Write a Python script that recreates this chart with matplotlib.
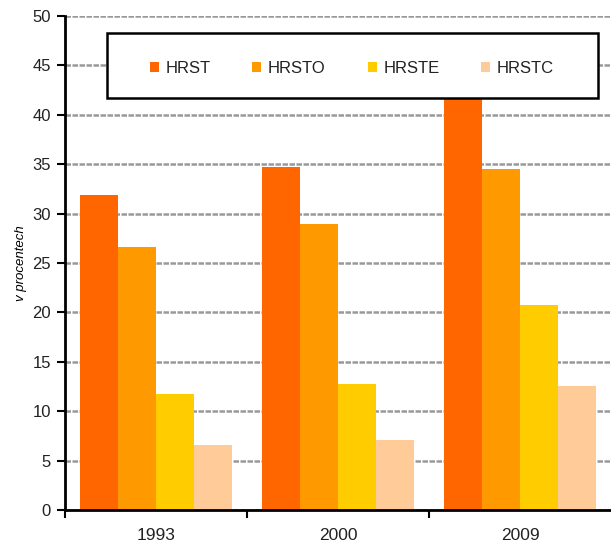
import matplotlib
matplotlib.use("Agg")
import matplotlib.pyplot as plt
from matplotlib.patches import Rectangle
import numpy as np

plt.rcParams['font.family'] = ['Liberation Sans', 'DejaVu Sans']

years = ['1993', '2000', '2009']
series = ['HRST', 'HRSTO', 'HRSTE', 'HRSTC']
hrst = [31.9, 34.7, 44.5]
hrsto = [26.6, 28.9, 34.5]
hrste = [11.7, 12.8, 20.8]
hrstc = [6.6, 7.1, 12.6]
colors = ['#ff6600', '#ff9900', '#ffcc00', '#ffcc99']

fig = plt.figure(figsize=(6.11, 5.46), dpi=100)
ax = fig.add_axes([0.1064, 0.0659, 0.8936, 0.9048])

x = np.arange(len(years))
w = 0.2075
for i, (vals, name) in enumerate(zip([hrst, hrsto, hrste, hrstc], series)):
    ax.bar(x + (i - 1.5) * w, vals, width=w, color=colors[i], label=name, zorder=2)

ax.set_ylim(0, 50)
ax.set_yticks(np.arange(0, 51, 5))
ax.set_xlim(-0.5, 2.5)
ax.set_xticks(x)
ax.set_xticklabels(years, color='#222222')
ax.set_xticks([-0.5, 0.5, 1.5], minor=True)
ax.tick_params(axis='x', which='major', length=0, pad=13, labelsize=12.5)
ax.tick_params(axis='x', which='minor', length=6, width=1.5, direction='out')
ax.tick_params(axis='y', length=6, width=1.5, direction='out', labelsize=12, pad=4,
               labelcolor='#222222')

ax.yaxis.grid(True, color='#999999', linestyle=(0, (2.2, 0.6)), linewidth=1.8, zorder=0)
ax.set_axisbelow(True)
for s in ['top', 'right']:
    ax.spines[s].set_visible(False)
ax.spines['left'].set_linewidth(2)
ax.spines['bottom'].set_linewidth(2)

ax.set_ylabel('v procentech', fontstyle='italic', fontsize=9.5, labelpad=4)

# legend box drawn separately so the entries can sit where they do in the original
ax.add_patch(Rectangle((0.077, 0.834), 0.899, 0.132, transform=ax.transAxes,
                       facecolor='white', edgecolor='black', linewidth=1.8,
                       zorder=4, clip_on=False))
leg = ax.legend(loc='center left', bbox_to_anchor=(0.155, 0.893), ncol=4,
                fontsize=12, frameon=False, borderpad=0, borderaxespad=0,
                handlelength=0.55, handleheight=0.55, handletextpad=0.4,
                columnspacing=2.5)
leg.set_zorder(5)
for t in leg.get_texts():
    t.set_color('#222222')

fig.savefig('out.png', dpi=100)
